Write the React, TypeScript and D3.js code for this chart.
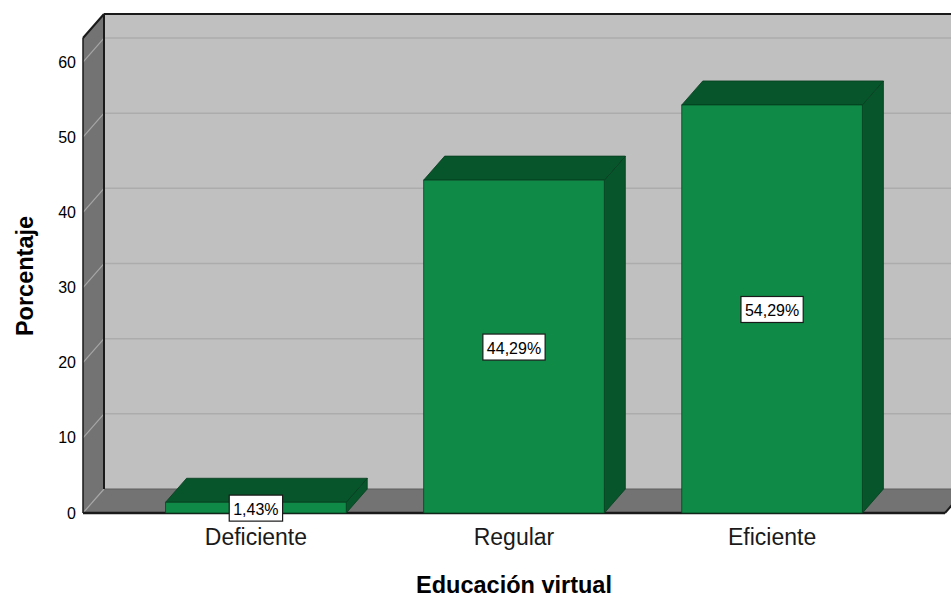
import React from "react";
import * as d3 from "d3";

const categories = ["Deficiente", "Regular", "Eficiente"];
const values = [1.43, 44.29, 54.29];
const valueLabels = ["1,43%", "44,29%", "54,29%"];
const yTicks = [0, 10, 20, 30, 40, 50, 60];
const yTitle = "Porcentaje";
const xTitle = "Educación virtual";

const W = 951;
const H = 598;
const DX = 21;
const DY = -24;
const FRONT_LEFT = 83;
const FRONT_RIGHT = 945;
const FLOOR_Y = 513;
const TOP_Y = 38;
const Y_MAX = 63.2;
const LABEL_FS = 16;

function textWidth(s: string, fs: number) {
  let w = 0;
  for (const ch of s) {
    if (ch === ",") w += 0.278;
    else if (ch === "%") w += 0.889;
    else w += 0.556;
  }
  return w * fs;
}

export default function App() {
  const y = d3.scaleLinear().domain([0, Y_MAX]).range([FLOOR_Y, TOP_Y]);
  const x = d3
    .scaleBand<string>()
    .domain(categories)
    .range([FRONT_LEFT, FRONT_RIGHT])
    .paddingInner(0.3)
    .paddingOuter(0.32);
  const bw = x.bandwidth();
  const font = "'Liberation Sans', Arial, sans-serif";
  const pts = (arr: number[][]) => arr.map((p) => p.join(",")).join(" ");

  const backTop = TOP_Y + DY;
  const backBottom = FLOOR_Y + DY;
  const backLeft = FRONT_LEFT + DX;
  const backRight = FRONT_RIGHT + DX;

  return (
    <svg
      width={W}
      height={H}
      style={{ position: "absolute", left: 0, top: 0, background: "#fff" }}
      fontFamily={font}
    >
      {/* back wall */}
      <rect x={backLeft} y={backTop} width={backRight - backLeft} height={backBottom - backTop} fill="#c0c0c0" />
      {yTicks.slice(1).map((t) => (
        <line key={"g" + t} x1={backLeft} x2={backRight} y1={y(t) + DY} y2={y(t) + DY} stroke="#acacac" strokeWidth={1.5} />
      ))}
      {/* left wall */}
      <polygon
        points={pts([
          [FRONT_LEFT, TOP_Y],
          [backLeft, backTop],
          [backLeft, backBottom],
          [FRONT_LEFT, FLOOR_Y],
        ])}
        fill="#737373"
      />
      {yTicks.slice(1).map((t) => (
        <line key={"lg" + t} x1={FRONT_LEFT} y1={y(t)} x2={backLeft} y2={y(t) + DY} stroke="#a6a6a6" strokeWidth={1.2} />
      ))}
      {/* floor */}
      <polygon
        points={pts([
          [FRONT_LEFT, FLOOR_Y],
          [backLeft, backBottom],
          [backRight, backBottom],
          [FRONT_RIGHT, FLOOR_Y],
        ])}
        fill="#737373"
      />
      <line x1={backLeft} y1={backBottom} x2={backRight} y2={backBottom} stroke="#5f5f5f" strokeWidth={1} />
      <line x1={FRONT_LEFT} y1={FLOOR_Y} x2={backLeft} y2={backBottom} stroke="#a6a6a6" strokeWidth={1.2} />
      {/* borders */}
      <line x1={backLeft} y1={backTop} x2={backRight} y2={backTop} stroke="#1a1a1a" strokeWidth={2} />
      <line x1={FRONT_LEFT} y1={TOP_Y} x2={backLeft} y2={backTop} stroke="#1a1a1a" strokeWidth={2} />
      <line x1={backLeft} y1={backTop} x2={backLeft} y2={backBottom} stroke="#1a1a1a" strokeWidth={2} />
      <line x1={FRONT_LEFT} y1={TOP_Y} x2={FRONT_LEFT} y2={FLOOR_Y} stroke="#1a1a1a" strokeWidth={1.5} />
      <line x1={FRONT_LEFT} y1={FLOOR_Y} x2={FRONT_RIGHT} y2={FLOOR_Y} stroke="#1a1a1a" strokeWidth={2.5} />
      <line x1={FRONT_RIGHT} y1={FLOOR_Y} x2={backRight} y2={backBottom} stroke="#1a1a1a" strokeWidth={2} />

      {/* bars */}
      {categories.map((c, i) => {
        const x0 = x(c)!;
        const x1 = x0 + bw;
        const yv = y(values[i]);
        return (
          <g key={c} stroke="#063d1f" strokeWidth={0.8} strokeLinejoin="round">
            <polygon
              points={pts([
                [x1, yv],
                [x1 + DX, yv + DY],
                [x1 + DX, backBottom],
                [x1, FLOOR_Y],
              ])}
              fill="#07552a"
            />
            <polygon
              points={pts([
                [x0, yv],
                [x0 + DX, yv + DY],
                [x1 + DX, yv + DY],
                [x1, yv],
              ])}
              fill="#07552a"
            />
            <rect x={x0} y={yv} width={bw} height={FLOOR_Y - yv} fill="#0f8b47" />
          </g>
        );
      })}

      {/* value labels */}
      {categories.map((c, i) => {
        const cx = x(c)! + bw / 2;
        const cy = (y(values[i]) + FLOOR_Y) / 2 + 0.5;
        const tw = textWidth(valueLabels[i], LABEL_FS) + 8;
        return (
          <g key={"l" + c}>
            <rect x={cx - tw / 2} y={cy - 13} width={tw} height={26} fill="#fff" stroke="#1a1a1a" strokeWidth={1.2} />
            <text x={cx} y={cy + 1} textAnchor="middle" dominantBaseline="central" fontSize={LABEL_FS} fill="#000">
              {valueLabels[i]}
            </text>
          </g>
        );
      })}

      {/* y tick labels */}
      {yTicks.map((t) => (
        <text key={"t" + t} x={76} y={y(t)} textAnchor="end" dominantBaseline="central" fontSize={16} fill="#000">
          {t}
        </text>
      ))}

      {/* category labels */}
      {categories.map((c) => (
        <text key={"c" + c} x={x(c)! + bw / 2} y={545} textAnchor="middle" fontSize={23} fill="#1a1a1a">
          {c}
        </text>
      ))}

      <text
        transform={`translate(33, 276) rotate(-90)`}
        textAnchor="middle"
        fontSize={23.5}
        fontWeight="bold"
        fill="#000"
      >
        {yTitle}
      </text>
      <text x={514} y={593} textAnchor="middle" fontSize={23.5} fontWeight="bold" fill="#000">
        {xTitle}
      </text>
    </svg>
  );
}
